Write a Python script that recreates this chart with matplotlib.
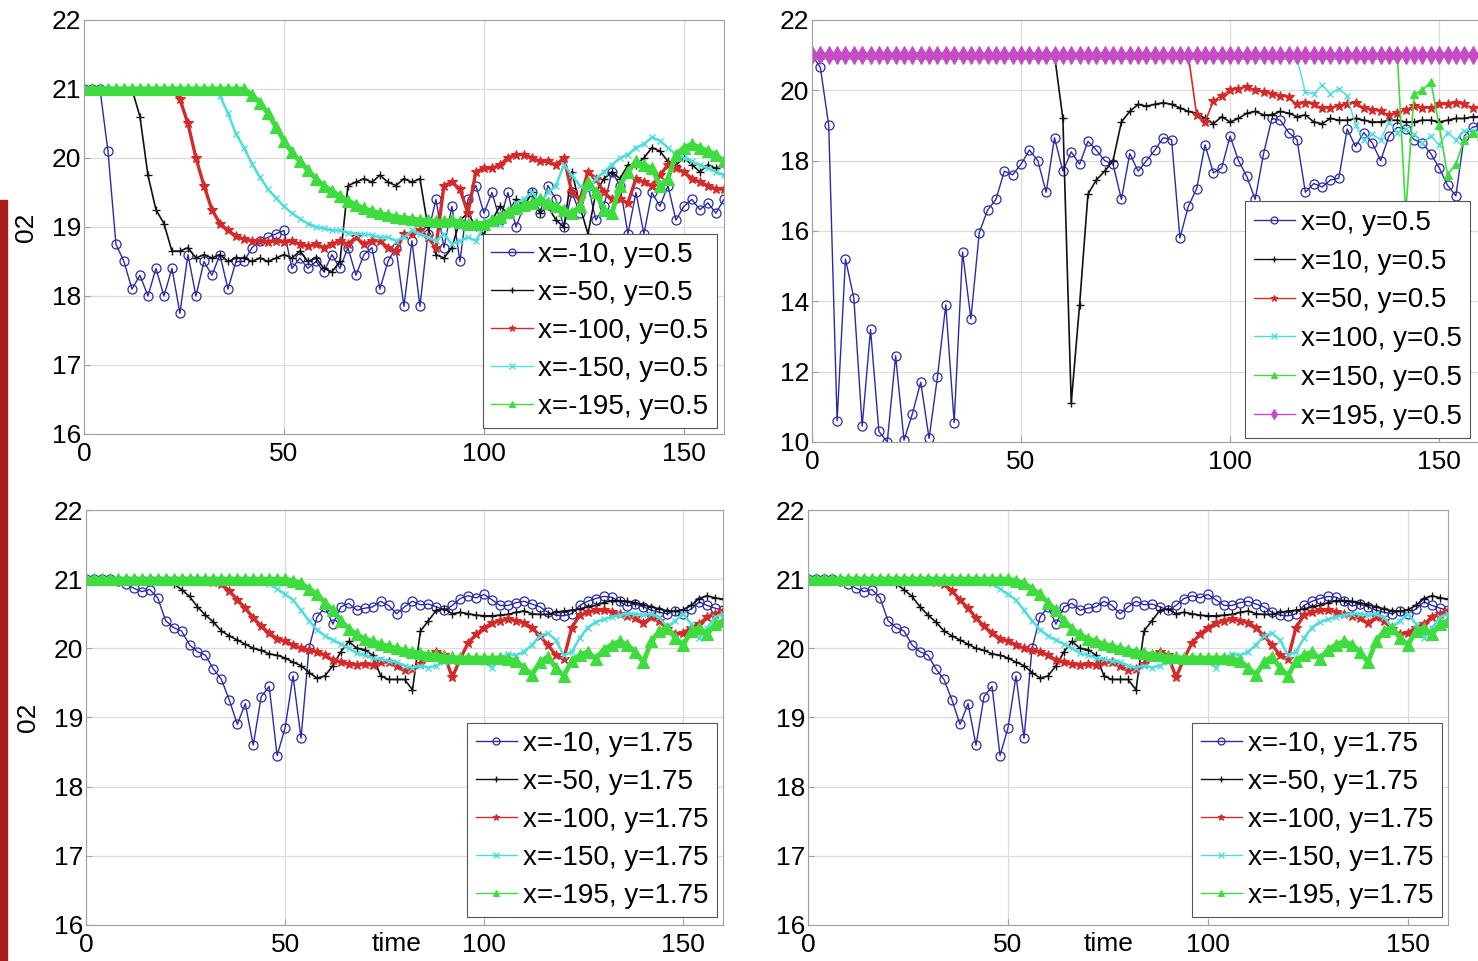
import numpy as np
import matplotlib
matplotlib.use('Agg')
import matplotlib.pyplot as plt
from matplotlib.patches import Rectangle

plt.rcParams['font.family'] = ['Liberation Sans', 'DejaVu Sans']

# time axis (sampled every 2 steps)
t = np.arange(0, 161, 2)

# ---- top-left: y = 0.5, negative x ----
labels_tl = ['x=-10, y=0.5', 'x=-50, y=0.5', 'x=-100, y=0.5', 'x=-150, y=0.5', 'x=-195, y=0.5']
tl_blue = [21.0, 21.0, 21.0, 20.1, 18.75, 18.5, 18.1, 18.3, 18.0, 18.4,
           18.0, 18.4, 17.75, 18.6, 18.0, 18.5, 18.3, 18.6, 18.1, 18.5,
           18.5, 18.7, 18.8, 18.85, 18.9, 18.95, 18.4, 18.55, 18.4, 18.5,
           18.35, 18.6, 18.4, 18.7, 18.3, 18.6, 18.7, 18.1, 18.5, 18.7,
           17.85, 18.8, 17.85, 18.9, 19.4, 18.7, 19.3, 18.5, 19.4, 19.6,
           19.2, 19.5, 19.1, 19.5, 19.0, 19.3, 19.5, 19.2, 19.6, 19.4,
           19.0, 19.5, 19.2, 19.6, 19.1, 19.3, 19.8, 19.6, 18.9, 19.5,
           18.9, 19.5, 19.3, 19.6, 19.1, 19.3, 19.4, 19.25, 19.35, 19.2,
           19.4]
tl_black = [21.0, 21.0, 21.0, 21.0, 21.0, 21.0, 21.0, 20.6, 19.75, 19.25,
            19.05, 18.65, 18.65, 18.7, 18.55, 18.6, 18.55, 18.6, 18.5, 18.55,
            18.55, 18.5, 18.55, 18.5, 18.55, 18.6, 18.55, 18.65, 18.5, 18.55,
            18.4, 18.35, 18.5, 19.6, 19.65, 19.7, 19.65, 19.75, 19.65, 19.6,
            19.7, 19.65, 19.7, 19.0, 18.6, 18.55, 18.7, 19.1, 19.2, 19.0,
            18.9, 19.1, 19.3, 19.2, 19.4, 19.3, 19.5, 19.2, 19.3, 19.1,
            19.0, 19.8, 19.3, 18.9, 19.5, 19.7, 19.8, 19.7, 19.9, 19.9,
            20.0, 20.15, 20.1, 19.95, 19.9, 20.0, 19.9, 19.8, 19.9, 19.85,
            19.9]
tl_red = [21.0, 21.0, 21.0, 21.0, 21.0, 21.0, 21.0, 21.0, 21.0, 21.0,
          21.0, 21.0, 20.85, 20.5, 20.0, 19.6, 19.25, 19.05, 18.95, 18.87,
          18.82, 18.8, 18.8, 18.78, 18.8, 18.78, 18.8, 18.75, 18.72, 18.75,
          18.7, 18.75, 18.8, 18.75, 18.85, 18.75, 18.8, 18.8, 18.7, 18.65,
          18.9, 18.9, 18.95, 18.85, 18.7, 19.6, 19.65, 19.55, 19.2, 19.8,
          19.85, 19.85, 19.9, 20.0, 20.05, 20.05, 20.0, 19.95, 19.95, 19.9,
          20.0, 19.5, 19.4, 19.8, 19.7, 19.5, 19.4, 19.4, 19.35, 19.7,
          19.65, 19.6, 19.75, 19.9, 19.85, 19.8, 19.7, 19.65, 19.6, 19.55,
          19.55]
tl_cyan = [21.0, 21.0, 21.0, 21.0, 21.0, 21.0, 21.0, 21.0, 21.0, 21.0,
           21.0, 21.0, 21.0, 21.0, 21.0, 21.0, 21.0, 20.9, 20.65, 20.35,
           20.15, 19.92, 19.72, 19.55, 19.42, 19.3, 19.2, 19.12, 19.05, 19.0,
           18.98, 18.95, 18.95, 18.92, 18.9, 18.9, 18.88, 18.85, 18.85, 18.8,
           18.85, 18.95, 18.9, 18.85, 18.8, 18.9, 18.75, 18.8, 18.85, 18.8,
           19.0, 19.1, 19.05, 19.2, 19.35, 19.4, 19.5, 19.35, 19.5, 19.6,
           19.9, 19.75, 19.6, 19.55, 19.7, 19.8, 19.9, 20.0, 20.05, 20.15,
           20.2, 20.3, 20.25, 20.15, 20.05, 20.0, 19.95, 19.9, 19.85, 19.8,
           19.75]
tl_green = [21.0, 21.0, 21.0, 21.0, 21.0, 21.0, 21.0, 21.0, 21.0, 21.0,
            21.0, 21.0, 21.0, 21.0, 21.0, 21.0, 21.0, 21.0, 21.0, 21.0,
            21.0, 20.92, 20.8, 20.65, 20.45, 20.25, 20.08, 19.95, 19.82, 19.7,
            19.6, 19.52, 19.45, 19.38, 19.32, 19.27, 19.23, 19.2, 19.17, 19.15,
            19.13, 19.12, 19.1, 19.1, 19.08, 19.08, 19.1, 19.07, 19.05, 19.05,
            19.05, 19.1, 19.15, 19.22, 19.28, 19.32, 19.35, 19.4, 19.35, 19.3,
            19.25, 19.2, 19.3, 19.65, 19.5, 19.25, 19.2, 19.6, 19.8, 19.95,
            19.9, 19.85, 19.6, 19.7, 20.05, 20.15, 20.2, 20.15, 20.1, 20.05,
            19.95]

# ---- top-right: y = 0.5, positive x ----
labels_tr = ['x=0, y=0.5', 'x=10, y=0.5', 'x=50, y=0.5', 'x=100, y=0.5', 'x=150, y=0.5', 'x=195, y=0.5']
tr_blue = [21.0, 20.65, 19.0, 10.6, 15.2, 14.1, 10.45, 13.2, 10.3, 10.0,
           12.45, 10.05, 10.8, 11.7, 10.1, 11.85, 13.9, 10.55, 15.4, 13.5,
           15.95, 16.6, 16.9, 17.7, 17.6, 17.9, 18.3, 18.0, 17.1, 18.65,
           17.7, 18.25, 17.9, 18.55, 18.3, 18.0, 17.9, 16.9, 18.2, 17.7,
           18.0, 18.3, 18.65, 18.6, 15.8, 16.7, 17.2, 18.45, 17.65, 17.8,
           18.7, 18.0, 17.55, 16.9, 18.2, 19.2, 19.15, 18.8, 18.6, 17.1,
           17.35, 17.25, 17.45, 17.5, 18.9, 18.4, 18.8, 18.5, 18.0, 18.7,
           18.95, 18.9, 18.6, 18.5, 18.2, 17.8, 17.3, 17.0, 18.7, 18.95,
           19.0]
tr_black = [21.0] * 30 + [
            19.2, 11.1, 13.9, 17.05, 17.45, 17.7, 18.0, 19.1, 19.4, 19.6,
            19.55, 19.6, 19.65, 19.6, 19.5, 19.4, 19.35, 19.2, 19.05, 19.25,
            19.1, 19.2, 19.35, 19.4, 19.3, 19.3, 19.4, 19.35, 19.25, 19.3,
            19.1, 19.05, 19.2, 19.15, 19.15, 19.2, 19.15, 19.1, 19.1, 19.15,
            19.15, 19.1, 19.1, 19.15, 19.15, 19.1, 19.15, 19.2, 19.2, 19.25,
            19.25]
tr_red = [21.0] * 46 + [
          19.3, 19.1, 19.7, 19.85,
          20.0, 20.05, 20.1, 20.0, 19.95, 19.9, 19.85, 19.8, 19.6, 19.65,
          19.6, 19.5, 19.5, 19.55, 19.6, 19.65, 19.5, 19.45, 19.4, 19.3,
          19.35, 19.45, 19.55, 19.5, 19.5, 19.6, 19.6, 19.65, 19.6, 19.5,
          19.5]
tr_cyan = [21.0] * 58 + [
           20.9, 19.95,
           19.9, 20.15, 19.9, 20.05, 19.85, 19.0, 18.6, 18.75, 18.6, 19.1,
           18.8, 18.9, 18.75, 18.5, 18.7, 18.45, 18.8, 18.6, 18.85, 18.85,
           18.8]
tr_green = [21.0] * 70 + [
            21.0, 16.5, 19.9, 20.0, 20.25, 19.0, 17.6, 17.9, 18.6, 18.8,
            18.7]
tr_magenta = [21.0] * 81

# ---- bottom row: y = 1.75 (both panels show the same runs) ----
labels_b = ['x=-10, y=1.75', 'x=-50, y=1.75', 'x=-100, y=1.75', 'x=-150, y=1.75', 'x=-195, y=1.75']
b_blue = [21.0, 21.0, 21.0, 21.0, 20.97, 20.93, 20.87, 20.82, 20.85, 20.73,
          20.4, 20.3, 20.25, 20.05, 19.95, 19.9, 19.7, 19.55, 19.25, 18.9,
          19.2, 18.6, 19.3, 19.45, 18.45, 18.85, 19.6, 18.7, 20.0, 20.45,
          20.6, 20.35, 20.6, 20.65, 20.55, 20.58, 20.6, 20.68, 20.62, 20.5,
          20.6, 20.68, 20.63, 20.64, 20.6, 20.55, 20.62, 20.72, 20.76, 20.73,
          20.78, 20.7, 20.62, 20.62, 20.66, 20.68, 20.64, 20.6, 20.52, 20.48,
          20.47, 20.5, 20.62, 20.68, 20.72, 20.75, 20.74, 20.68, 20.61, 20.64,
          20.6, 20.55, 20.52, 20.5, 20.54, 20.5, 20.57, 20.67, 20.62, 20.58,
          20.55]
b_black = [21.0, 21.0, 21.0, 21.0, 21.0, 21.0, 21.0, 21.0, 21.0, 21.0,
           20.97, 20.93, 20.85, 20.75, 20.6, 20.48, 20.38, 20.25, 20.18, 20.12,
           20.06, 20.0, 19.97, 19.92, 19.9, 19.86, 19.8, 19.75, 19.65, 19.57,
           19.6, 19.75, 19.95, 20.1, 20.0, 19.98, 19.9, 19.6, 19.55, 19.55,
           19.55, 19.4, 20.25, 20.4, 20.55, 20.57, 20.5, 20.52, 20.5, 20.48,
           20.47, 20.47, 20.48, 20.49, 20.52, 20.54, 20.5, 20.49, 20.49, 20.52,
           20.54, 20.55, 20.57, 20.6, 20.62, 20.66, 20.69, 20.69, 20.68, 20.66,
           20.63, 20.6, 20.57, 20.54, 20.54, 20.56, 20.62, 20.72, 20.76, 20.73,
           20.71]
b_red = [21.0, 21.0, 21.0, 21.0, 21.0, 21.0, 21.0, 21.0, 21.0, 21.0,
         21.0, 21.0, 21.0, 21.0, 21.0, 21.0, 20.96, 20.93, 20.83, 20.7,
         20.58, 20.44, 20.32, 20.22, 20.14, 20.1, 20.05, 20.0, 19.97, 19.95,
         19.9, 19.83, 19.8, 19.77, 19.76, 19.77, 19.76, 19.8, 19.8, 19.75,
         19.68, 19.7, 19.78, 19.88, 19.95, 19.9, 19.58, 19.85, 20.08, 20.2,
         20.3, 20.36, 20.4, 20.42, 20.4, 20.37, 20.3, 20.18, 20.05, 19.9,
         19.85, 20.3, 20.48, 20.52, 20.55, 20.55, 20.53, 20.5, 20.47, 20.44,
         20.36, 20.45, 20.4, 20.28, 20.2, 20.22, 20.3, 20.35, 20.45, 20.5,
         20.54]
b_cyan = [21.0, 21.0, 21.0, 21.0, 21.0, 21.0, 21.0, 21.0, 21.0, 21.0,
          21.0, 21.0, 21.0, 21.0, 21.0, 21.0, 21.0, 21.0, 21.0, 21.0,
          21.0, 21.0, 20.97, 20.93, 20.86, 20.78, 20.7, 20.55, 20.4, 20.27,
          20.18, 20.12, 20.06, 20.0, 19.93, 19.9, 19.86, 19.84, 19.82, 19.8,
          19.75, 19.72, 19.75, 19.72, 19.75, 19.8, 19.82, 19.84, 19.86, 19.85,
          19.8, 19.72, 19.86, 19.92, 19.9, 19.95, 20.05, 20.18, 20.22, 20.12,
          19.9, 19.95, 20.15, 20.3, 20.38, 20.42, 20.45, 20.48, 20.5, 20.5,
          20.48, 20.5, 20.45, 20.3, 20.4, 20.5, 20.35, 20.15, 20.3, 20.45,
          20.5]
b_green = [21.0, 21.0, 21.0, 21.0, 21.0, 21.0, 21.0, 21.0, 21.0, 21.0,
           21.0, 21.0, 21.0, 21.0, 21.0, 21.0, 21.0, 21.0, 21.0, 21.0,
           21.0, 21.0, 21.0, 21.0, 21.0, 21.0, 20.98, 20.94, 20.86, 20.78,
           20.66, 20.55, 20.4, 20.28, 20.2, 20.14, 20.1, 20.06, 20.03, 20.0,
           19.97, 19.95, 19.93, 19.91, 19.9, 19.88, 19.87, 19.86, 19.86, 19.86,
           19.86, 19.86, 19.86, 19.85, 19.82, 19.72, 19.62, 19.8, 19.88, 19.72,
           19.6, 19.82, 19.9, 19.95, 19.85, 19.98, 20.05, 20.1, 20.05, 19.95,
           19.8, 20.1, 20.25, 20.3, 20.15, 20.05, 20.25, 20.3, 20.2, 20.35,
           20.4]

# line styles (matlab-like markers)
sty_blue = dict(color='#2b2ba6', marker='o', ms=6.5, mfc='none', mew=0.9, lw=1.0)
sty_black = dict(color='#111111', marker='+', ms=6, mew=1.0, lw=1.2)
sty_red = dict(color='#d42a2a', marker='*', ms=7, mew=0.8, lw=2.4)
sty_cyan = dict(color='#4fdcdc', marker='x', ms=4.5, mew=1.0, lw=1.8)
sty_green = dict(color='#3fdc3f', marker='^', ms=8, mew=0.8, lw=3.5)
sty_magenta = dict(color='#c74bc7', marker='d', ms=9, mew=0.8, lw=4.0)

# the top-right runs jump off the 21 line with thin connecting lines
sty_red_thin = dict(sty_red, lw=1.2)
sty_cyan_thin = dict(sty_cyan, lw=1.0)
sty_green_thin = dict(sty_green, lw=1.2, ms=6)


def draw_panel(ax, series, labels, styles, yticks, anchor, spacing):
    lines = []
    for y, lab, st in zip(series, labels, styles):
        ln, = ax.plot(t, y, label=lab, **st)
        lines.append(ln)
    ax.set_xlim(0, 160)
    ax.set_ylim(yticks[0], yticks[-1])
    ax.set_xticks([0, 50, 100, 150])
    ax.set_yticks(yticks)
    ax.grid(True, color='#dcdcdc', lw=0.9)
    ax.set_axisbelow(True)
    for s in ax.spines.values():
        s.set_color('#a0a0a0')
    ax.tick_params(direction='in', length=4, color='#a0a0a0', labelsize=19)
    ax.tick_params(axis='x', pad=6)
    ax.tick_params(axis='y', pad=2)
    leg = ax.legend(lines, labels, loc='lower right', bbox_to_anchor=anchor,
                    borderaxespad=0, fontsize=20, labelspacing=spacing,
                    handlelength=1.5, handletextpad=0.2, borderpad=0.3,
                    fancybox=False, framealpha=1, edgecolor='#555555')
    leg.get_frame().set_linewidth(0.8)
    for h in leg.get_lines():
        h.set_linewidth(1.0)
        h.set_markersize(5)
    return ax


fig = plt.figure(figsize=(14.78, 9.61), dpi=100, facecolor='w')

ax1 = fig.add_axes([0.0568, 0.5484, 0.4330, 0.4308])
ax2 = fig.add_axes([0.5494, 0.5401, 0.4526, 0.4391])
ax3 = fig.add_axes([0.0582, 0.0375, 0.4310, 0.4318])
ax4 = fig.add_axes([0.5467, 0.0375, 0.4330, 0.4318])

five = [sty_blue, sty_black, sty_red, sty_cyan, sty_green]

draw_panel(ax1, [tl_blue, tl_black, tl_red, tl_cyan, tl_green], labels_tl, five,
           [16, 17, 18, 19, 20, 21, 22], (0.989, 0.0145), 0.43)
draw_panel(ax2, [tr_blue, tr_black, tr_red, tr_cyan, tr_green, tr_magenta], labels_tr,
           [sty_blue, sty_black, sty_red_thin, sty_cyan_thin, sty_green_thin, sty_magenta],
           [10, 12, 14, 16, 18, 20, 22], (0.9836, 0.0095), 0.46)
for ax in (ax3, ax4):
    draw_panel(ax, [b_blue, b_black, b_red, b_cyan, b_green], labels_b, five,
               [16, 17, 18, 19, 20, 21, 22], (0.99, 0.019), 0.43)

for ax in (ax1, ax3):
    ax.set_ylabel('02', fontsize=19)
    ax.yaxis.set_label_coords(-0.072, 0.5)

ax3.set_xlabel('time', fontsize=19)
ax3.xaxis.set_label_coords(0.488, -0.017)
ax4.set_xlabel('time', fontsize=19)
ax4.xaxis.set_label_coords(0.469, -0.017)

# dark red strip on the left edge of the page
fig.patches.append(Rectangle((0, 0), 7 / 1478, 761 / 961, transform=fig.transFigure,
                             color='#a81c1c', zorder=0))

fig.savefig('out.png', dpi=100)
